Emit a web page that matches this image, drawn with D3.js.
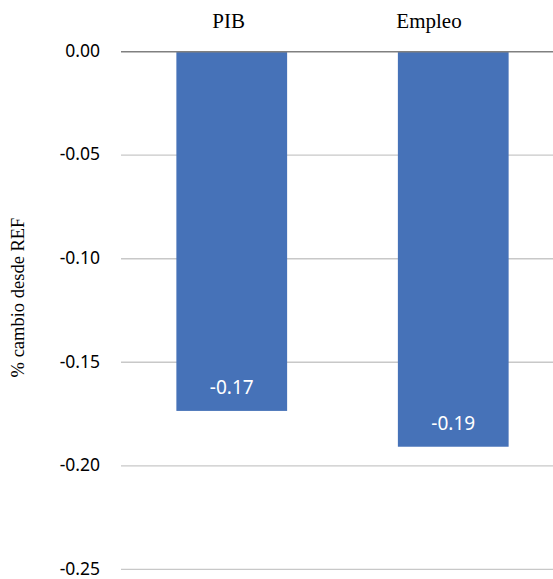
<!DOCTYPE html>
<html><head><meta charset="utf-8">
<script src="https://cdn.jsdelivr.net/npm/d3@7"></script>
<style>body{margin:0;background:#fff}</style>
</head><body>
<svg id="c" width="553" height="579"></svg>
<script>
const categories = ["PIB", "Empleo"];
const values = [-0.1735, -0.1908];
const labels = ["-0.17", "-0.19"];
const yTicks = [0, -0.05, -0.10, -0.15, -0.20, -0.25];

const svg = d3.select("#c");
const x = d3.scaleBand().domain(categories).range([121, 564]).paddingInner(0.5).paddingOuter(0.25);
const xLabel = d3.scalePoint().domain(categories).range([228.7, 429]);
const y = d3.scaleLinear().domain([0, -0.25]).range([51.7, 569.3]);

// gridlines
svg.append("g").selectAll("line").data(yTicks.filter(d => d !== 0)).join("line")
  .attr("x1", 121).attr("x2", 553)
  .attr("y1", d => y(d)).attr("y2", d => y(d))
  .attr("stroke", "#c8c8c8").attr("stroke-width", 1.3);

// y tick labels
svg.append("g").selectAll("text").data(yTicks).join("text")
  .attr("x", 100).attr("y", d => y(d)).attr("dy", "0.3em")
  .attr("text-anchor", "end")
  .attr("font-family", "'Noto Sans', sans-serif").attr("font-size", 17.5)
  .attr("fill", "#000")
  .text(d => d3.format(".2f")(d).replace("−", "-"));

// bars
svg.append("g").selectAll("rect").data(values).join("rect")
  .attr("x", (d, i) => x(categories[i]))
  .attr("width", x.bandwidth())
  .attr("y", y(0))
  .attr("height", d => y(d) - y(0))
  .attr("fill", "#4672b8");

// zero line
svg.append("line").attr("x1", 121).attr("x2", 553)
  .attr("y1", y(0)).attr("y2", y(0))
  .attr("stroke", "#808080").attr("stroke-width", 1.5);

// data labels
svg.append("g").selectAll("text").data(values).join("text")
  .attr("x", (d, i) => x(categories[i]) + x.bandwidth() / 2)
  .attr("y", d => y(d) - 17)
  .attr("text-anchor", "middle")
  .attr("font-family", "'Noto Sans', sans-serif").attr("font-size", 19)
  .attr("fill", "#fff")
  .text((d, i) => labels[i]);

// category labels on top
svg.append("g").selectAll("text").data(categories).join("text")
  .attr("x", d => xLabel(d))
  .attr("y", 28)
  .attr("text-anchor", "middle")
  .attr("font-family", "'Liberation Serif', serif").attr("font-size", 21)
  .attr("fill", "#000")
  .text(d => d);

// y axis title
svg.append("text")
  .attr("transform", "translate(24,297.5) rotate(-90)")
  .attr("text-anchor", "middle")
  .attr("font-family", "'Liberation Serif', serif").attr("font-size", 18.5)
  .attr("fill", "#000")
  .text("% cambio desde REF");
</script>
</body></html>
